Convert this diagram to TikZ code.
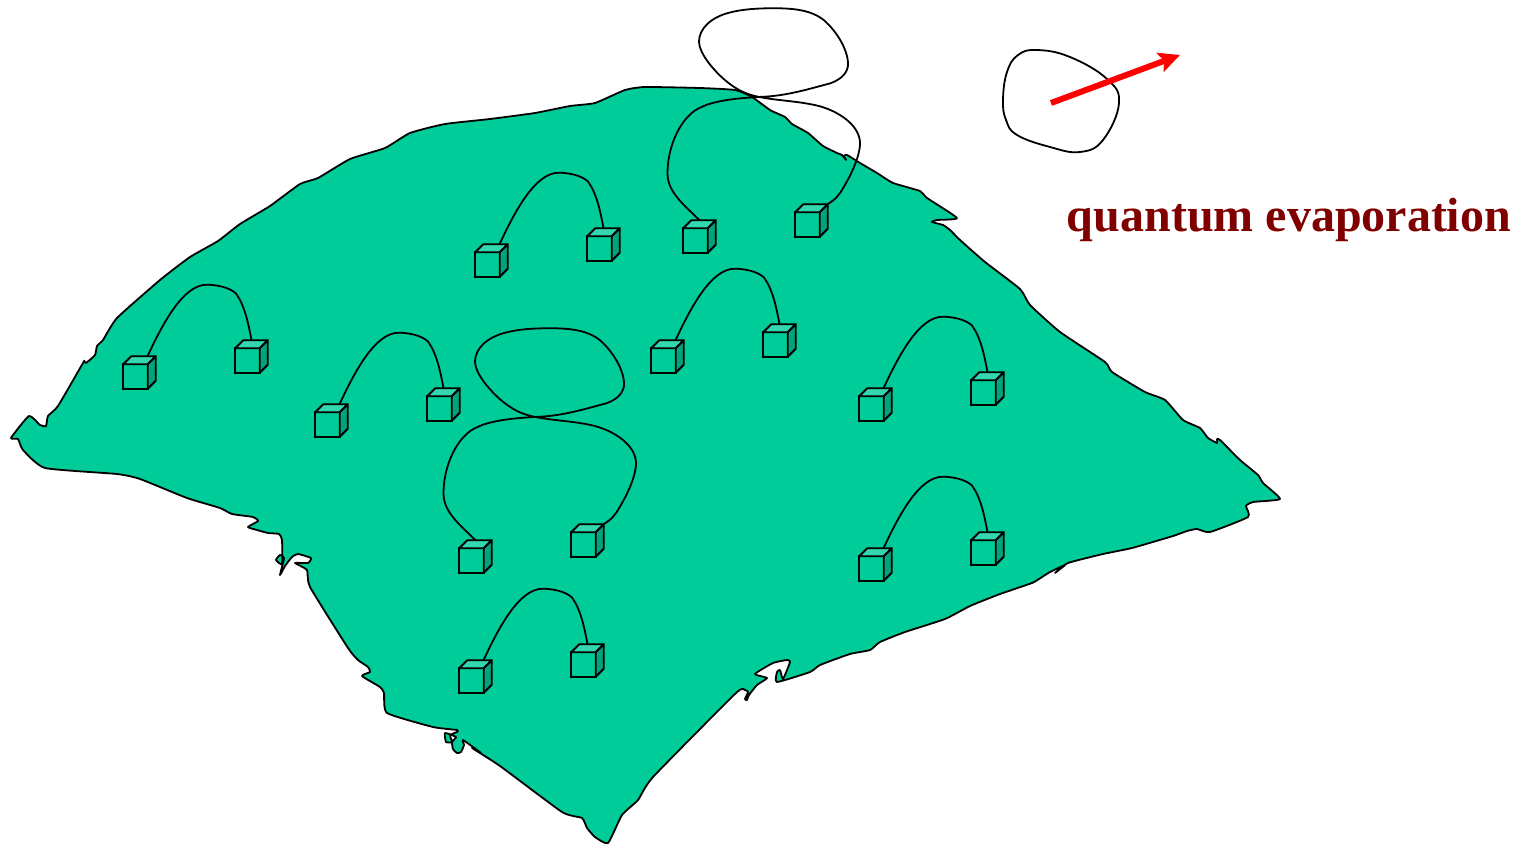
\documentclass[tikz,border=0pt]{standalone}
\usepackage{fontspec}
\setmainfont{Liberation Serif}
\usepackage{tikz}
\usetikzlibrary{calc, arrows.meta}
\definecolor{sheetgreen}{HTML}{00CC99}
\definecolor{toplight}{HTML}{33D6AD}
\definecolor{sidedark}{HTML}{00A37A}
\definecolor{labelred}{HTML}{800000}
\tikzstyle{sheet} = [draw=black, line width=1.8pt, fill=sheetgreen, line join=round]
\tikzstyle{front} = [rectangle, minimum size=24.5pt, inner sep=0pt, outer sep=0pt, draw=black, line width=1.8pt, fill=sheetgreen]
\tikzstyle{topface} = [draw=black, line width=1.8pt, fill=toplight, line join=round]
\tikzstyle{sideface} = [draw=black, line width=1.8pt, fill=sidedark, line join=round]
\tikzstyle{string} = [draw=black, line width=1.8pt]
\tikzstyle{arrow} = [draw=red, line width=6pt, -{Stealth[length=21pt,width=20pt,inset=4pt]}]

% one little cube, with the points where a string can be fixed on its back edge
\newcommand{\cube}[2]{
\node (#1) [front] at (#2) {};
\draw [topface] (#1.north west) -- ++(8,-8) -- ++(24.5,0) -- ++(-8,8) -- cycle;
\draw [sideface] (#1.north east) -- ++(8,-8) -- ++(0,24.5) -- ++(-8,8) -- cycle;
\coordinate (#1-m) at ($(#1.north)+(4,-8)$);
\coordinate (#1-r) at ($(#1.north)+(12,-8)$);
\coordinate (#1-c) at ($(#1.north)+(20,-8)$);
}
% open string between two cubes
\newcommand{\arch}[2]{
\draw [string, shift={(#1-r)}] (#1-r) .. controls (14,-30) and (35,-71.5) .. (59,-71.5)
  .. controls (75,-71.5) and (86,-66) .. (89,-62)
  .. controls (96,-52) and (100,-38) .. (#2-m);
}
% string with a closed loop pinched off at the crossing
\newcommand{\pinched}[2]{
\draw [string, shift={(#1-m)}] (#1-m) .. controls (-16,-16) and (-32,-28) .. (-32,-47)
  .. controls (-32,-75) and (-18,-105) .. (1.5,-113)
  .. controls (16,-120) and (38,-122) .. (59.5,-123.3)
  .. controls (85,-124) and (105,-130) .. (131,-137)
  .. controls (142,-141) and (149,-148) .. (148.5,-157)
  .. controls (148,-172) and (136,-190) .. (124.5,-200)
  .. controls (112,-210) and (95,-212) .. (74.5,-212)
  .. controls (58,-212) and (42,-211) .. (29.5,-207.5)
  .. controls (12,-203) and (-0.5,-192) .. (-0.5,-178.5)
  .. controls (-0.5,-168) and (12,-152) .. (24.5,-141)
  .. controls (36,-131) and (46,-126) .. (59.5,-123.3)
  .. controls (78,-119.5) and (103,-119) .. (122,-113.5)
  .. controls (143,-107) and (160.5,-93) .. (160.5,-77)
  .. controls (160.5,-63) and (150,-42) .. (141,-28)
  .. controls (137,-22) and (133,-19) .. (#2-c);
}

\begin{document}
\begin{tikzpicture}[x=1pt, y=-1pt]
\useasboundingbox (0,0) rectangle (1528,845);

% the sheet
\draw [sheet] plot [smooth cycle, tension=0.3] coordinates {
(11,438) (29,416) (40,425) (46,426) (48,416) (58,406) (83,363) (84.3,361) (86,363) (95,355) (97,346) (103,340)
(117,318) (160,280) (190,257) (218,241) (240,224) (270,206) (300,184) (318,178) (350,159) (385,148) (410,133)
(445,124) (490,119) (535,113) (570,106) (595,103) (625,90) (645,87) (700,88) (735,90) (752,97) (770,110) (785,117)
(792,124) (808,133) (823,146) (837,153) (842,155) (846,160) (844,156) (847,155) (860,163) (877,173) (893,183)
(920,191) (927,198) (957,218) (937,220) (932,222) (943,225) (950,230) (960,240) (985,262) (1020,289) (1030,305)
(1060,332) (1105,362) (1112,372) (1145,392) (1165,400) (1183,420) (1200,428) (1208,438) (1217,443) (1217,439)
(1220,440) (1240,460) (1258,475) (1263,483) (1280,499) (1253,502) (1246,506) (1248,517) (1210,532) (1197,529)
(1187,531) (1173,536) (1132,548) (1103,554) (1068,563) (1055,573) (1065,565) (1050,572) (1042,577) (1032,583)
(1000,594) (970,606) (945,619) (905,632) (880,642) (870,650) (850,654) (820,665) (810,672) (777,682) (777,672)
(780,670) (783,679) (790,662) (787,660) (773,663) (755,674) (767,678) (757,685) (749,695) (747,700) (745,699)
(748,692) (745,690) (736,693) (653,777) (638,800) (622,815) (608,843) (595,837) (587,828) (582,818) (562,812)
(500,766) (472,748) (481,753) (463,740) (464,745) (461,752) (457,753) (453,749) (452,742) (456,737) (445,733)
(446,742) (452,742) (450,735) (457,732) (457,730) (433,727) (387,713) (384,693) (380,687) (362,676) (370,672)
(368,667) (358,660) (348,648) (310,587) (307,570) (295,563) (308,563) (311,558) (298,554) (292,557) (285,566)
(280,575) (284,558) (280,555) (276,560) (282,564) (282,540) (279,534) (268,533) (257,530) (248,527) (258,521)
(253,517) (232,514) (220,508) (187,498) (140,479) (117,474) (45,468) (23,450) (18,439)
};

\cube{a1}{135.5,376.5}
\cube{a2}{247.5,360.5}
\cube{b1}{327.5,424.5}
\cube{b2}{439.5,408.5}
\cube{c1}{487.5,264.5}
\cube{c2}{599.5,248.5}
\cube{d1}{663.5,360.5}
\cube{d2}{775.5,344.5}
\cube{e1}{871.5,408.5}
\cube{e2}{983.5,392.5}
\cube{f1}{871.5,568.5}
\cube{f2}{983.5,552.5}
\cube{g1}{471.5,680.5}
\cube{g2}{583.5,664.5}
\cube{h1}{471.5,560.5}
\cube{h2}{583.5,544.5}
\cube{i1}{695.5,240.5}
\cube{i2}{807.5,224.5}

\arch{a1}{a2}
\arch{b1}{b2}
\arch{c1}{c2}
\arch{d1}{d2}
\arch{e1}{e2}
\arch{f1}{f2}
\arch{g1}{g2}
\pinched{h1}{h2}
\pinched{i1}{i2}

% the loop that got away
\draw [string] plot [smooth cycle, tension=0.7] coordinates {
(1003,100) (1007,72) (1018,55) (1037,50) (1070,57) (1107,79) (1119,103) (1103,140) (1080,152) (1050,147) (1017,135) (1006,120)
};
\coordinate (tail) at (1051,103);
\coordinate (head) at (1180,55);
\draw [arrow] (tail) -- (head);

\node (label) at (1289,220) {\fontsize{48}{52}\selectfont\bfseries\color{labelred}quantum evaporation};

\end{tikzpicture}
\end{document}
